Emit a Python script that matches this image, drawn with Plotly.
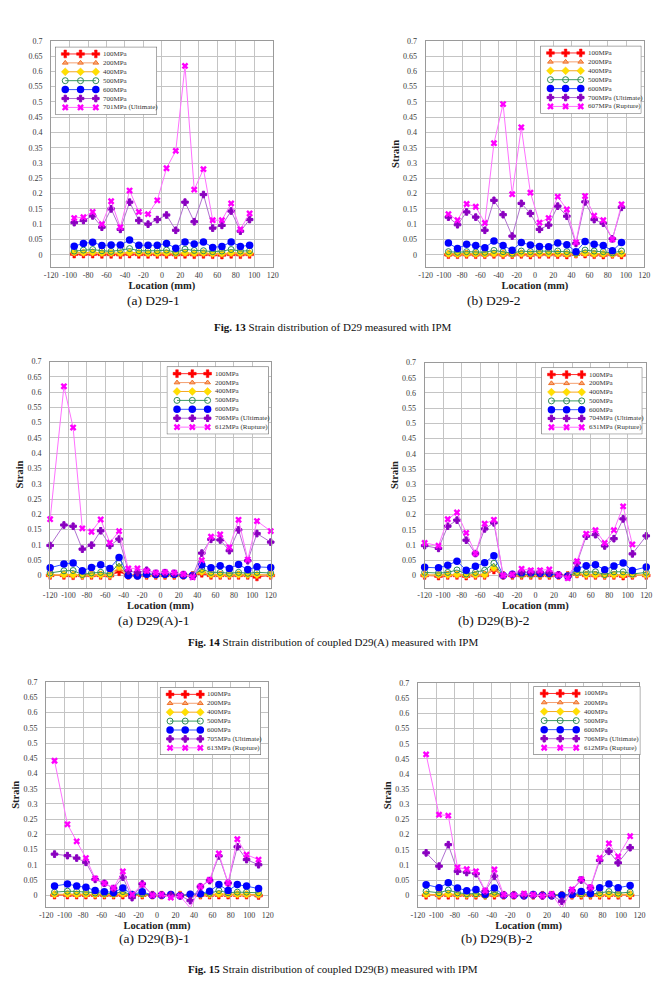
import plotly.graph_objects as go

W, H = 664, 993
SERIF = "Liberation Serif"

# ---------------- data ----------------
X_TICKS = [-120, -100, -80, -60, -40, -20, 0, 20, 40, 60, 80, 100, 120]

P1_X = [-95, -85, -75, -65, -55, -45, -35, -25, -15, -5, 5, 15, 25, 35, 45, 55, 65, 75, 85, 95]
P1_100 = [0.002, 0.002, 0.002, 0.001, 0.001, 0.000, 0.002, 0.001, 0.001, 0.001, 0.001, 0.000, 0.001, 0.000, 0.001, 0.000, -0.001, 0.001, 0.000, 0.001]
P1_200 = [0.004, 0.004, 0.004, 0.003, 0.003, 0.002, 0.003, 0.003, 0.002, 0.003, 0.003, 0.002, 0.003, 0.002, 0.003, 0.002, 0.001, 0.003, 0.002, 0.002]
P1_400 = [0.008, 0.007, 0.008, 0.006, 0.006, 0.005, 0.007, 0.006, 0.005, 0.005, 0.006, 0.004, 0.006, 0.005, 0.006, 0.004, 0.004, 0.006, 0.005, 0.005]
P1_500 = [0.012, 0.015, 0.017, 0.013, 0.011, 0.015, 0.020, 0.013, 0.012, 0.013, 0.015, 0.008, 0.018, 0.014, 0.013, 0.010, 0.012, 0.017, 0.012, 0.013]
P1_600 = [0.028, 0.037, 0.041, 0.030, 0.032, 0.032, 0.048, 0.031, 0.031, 0.031, 0.037, 0.021, 0.042, 0.035, 0.042, 0.024, 0.027, 0.042, 0.027, 0.031]
P1_700 = [0.105, 0.112, 0.127, 0.090, 0.150, 0.083, 0.172, 0.112, 0.100, 0.115, 0.130, 0.080, 0.172, 0.108, 0.197, 0.087, 0.096, 0.143, 0.077, 0.115]
P1_LAST = [0.120, 0.123, 0.140, 0.100, 0.175, 0.090, 0.210, 0.140, 0.133, 0.178, 0.283, 0.340, 0.618, 0.213, 0.280, 0.113, 0.113, 0.168, 0.083, 0.135]
P1_LABELS = ["100MPa", "200MPa", "400MPa", "500MPa", "600MPa", "700MPa", "701MPa (Ultimate)"]

P2_X = [-95, -85, -75, -65, -55, -45, -35, -25, -15, -5, 5, 15, 25, 35, 45, 55, 65, 75, 85, 95]
P2_100 = [0.000, 0.000, 0.001, 0.000, 0.000, 0.001, 0.000, 0.000, 0.001, -0.001, 0.001, 0.001, 0.000, -0.001, 0.002, 0.002, 0.000, -0.001, 0.001, -0.001]
P2_200 = [-0.001, -0.001, 0.000, -0.001, -0.001, 0.000, -0.001, -0.001, 0.000, -0.002, 0.000, 0.000, -0.001, -0.002, 0.002, 0.001, -0.001, -0.002, 0.000, -0.002]
P2_400 = [0.003, 0.002, 0.003, 0.003, 0.002, 0.004, 0.003, 0.002, 0.004, 0.003, 0.004, 0.004, 0.004, 0.003, 0.002, 0.005, 0.003, 0.003, 0.002, 0.003]
P2_500 = [0.010, 0.008, 0.010, 0.009, 0.008, 0.014, 0.010, 0.005, 0.012, 0.010, 0.012, 0.011, 0.012, 0.010, 0.005, 0.015, 0.012, 0.010, 0.006, 0.012]
P2_600 = [0.038, 0.020, 0.034, 0.030, 0.023, 0.045, 0.030, 0.015, 0.040, 0.032, 0.027, 0.026, 0.038, 0.033, 0.010, 0.043, 0.034, 0.030, 0.013, 0.040]
P2_700 = [0.123, 0.098, 0.140, 0.123, 0.080, 0.178, 0.131, 0.061, 0.168, 0.135, 0.083, 0.097, 0.159, 0.126, 0.037, 0.173, 0.115, 0.103, 0.052, 0.155]
P2_LAST = [0.133, 0.113, 0.166, 0.157, 0.104, 0.365, 0.493, 0.198, 0.417, 0.203, 0.105, 0.120, 0.190, 0.148, 0.040, 0.192, 0.128, 0.113, 0.050, 0.165]
P2_LABELS = ["100MPa", "200MPa", "400MPa", "500MPa", "600MPa", "700MPa (Ultimate)", "607MPa (Rupture)"]

P3_X = [-120, -105, -95, -85, -75, -65, -55, -45, -35, -25, -15, -5, 5, 15, 25, 35, 45, 55, 65, 75, 85, 95, 105, 120]
P3_100 = [0.000, 0.000, -0.001, 0.000, 0.000, 0.000, -0.001, 0.012, 0.000, 0.000, 0.000, 0.000, 0.000, 0.000, 0.000, 0.000, 0.007, 0.000, 0.000, 0.000, 0.000, 0.000, -0.005, 0.000]
P3_200 = [0.001, 0.001, 0.001, 0.000, 0.001, 0.001, 0.000, 0.020, 0.000, 0.000, 0.001, 0.001, 0.001, 0.001, 0.000, 0.000, 0.010, 0.001, 0.001, 0.001, 0.001, 0.001, 0.001, 0.001]
P3_400 = [0.002, 0.003, 0.002, 0.000, 0.002, 0.002, 0.001, 0.028, 0.000, 0.000, 0.002, 0.002, 0.002, 0.002, 0.000, 0.000, 0.012, 0.003, 0.002, 0.002, 0.003, 0.002, 0.002, 0.002]
P3_500 = [0.008, 0.015, 0.016, 0.003, 0.008, 0.010, 0.005, 0.040, 0.000, 0.000, 0.004, 0.003, 0.003, 0.003, 0.001, 0.000, 0.020, 0.010, 0.010, 0.007, 0.010, 0.007, 0.010, 0.008]
P3_600 = [0.025, 0.037, 0.041, 0.015, 0.026, 0.035, 0.023, 0.059, 0.000, -0.002, 0.004, 0.003, 0.004, 0.004, 0.000, 0.000, 0.034, 0.025, 0.032, 0.023, 0.036, 0.019, 0.028, 0.026]
P3_700 = [0.098, 0.165, 0.161, 0.086, 0.099, 0.146, 0.098, 0.119, 0.015, 0.009, 0.017, 0.007, 0.009, 0.007, 0.003, -0.002, 0.073, 0.118, 0.116, 0.081, 0.149, 0.048, 0.137, 0.109]
P3_LAST = [0.184, 0.619, 0.484, 0.154, 0.143, 0.183, 0.107, 0.145, 0.023, 0.023, 0.015, 0.009, 0.011, 0.009, 0.004, -0.006, 0.050, 0.127, 0.134, 0.092, 0.182, 0.052, 0.178, 0.145]
P3_LABELS = ["100MPa", "200MPa", "400MPa", "500MPa", "600MPa", "706MPa (Ultimate)", "612MPa (Rupture)"]

P4_X = [-120, -105, -95, -85, -75, -65, -55, -45, -35, -25, -15, -5, 5, 15, 25, 35, 45, 55, 65, 75, 85, 95, 105, 120]
P4_100 = [0.000, -0.002, 0.000, 0.000, -0.002, 0.000, 0.000, 0.018, 0.000, 0.000, 0.000, 0.000, 0.000, 0.000, 0.000, 0.000, 0.005, 0.000, 0.000, 0.000, 0.000, -0.002, 0.000, 0.000]
P4_200 = [0.000, 0.000, 0.001, 0.001, 0.000, 0.000, 0.001, 0.020, 0.000, 0.001, 0.000, 0.000, 0.000, 0.000, 0.000, 0.000, 0.008, 0.001, 0.000, 0.000, 0.001, 0.000, 0.000, 0.000]
P4_400 = [0.002, 0.002, 0.002, 0.003, 0.001, 0.002, 0.002, 0.025, 0.000, 0.002, 0.002, 0.002, 0.002, 0.002, 0.001, 0.000, 0.006, 0.002, 0.002, 0.001, 0.002, 0.002, 0.002, 0.002]
P4_500 = [0.010, 0.008, 0.010, 0.018, 0.005, 0.010, 0.017, 0.040, 0.000, 0.003, 0.004, 0.004, 0.004, 0.004, 0.002, -0.002, 0.010, 0.010, 0.012, 0.003, 0.012, 0.012, 0.005, 0.010]
P4_600 = [0.027, 0.025, 0.034, 0.047, 0.017, 0.030, 0.042, 0.065, 0.000, 0.004, 0.009, 0.009, 0.007, 0.007, 0.001, -0.002, 0.023, 0.032, 0.035, 0.019, 0.031, 0.041, 0.016, 0.028]
P4_700 = [0.098, 0.089, 0.162, 0.182, 0.116, 0.072, 0.153, 0.173, 0.000, 0.003, 0.012, 0.010, 0.010, 0.010, 0.002, -0.004, 0.041, 0.129, 0.134, 0.097, 0.121, 0.186, 0.071, 0.130]
P4_LAST = [0.107, 0.098, 0.185, 0.207, 0.140, 0.072, 0.170, 0.183, 0.000, 0.003, 0.022, 0.017, 0.017, 0.020, 0.002, -0.009, 0.047, 0.137, 0.149, 0.107, 0.149, 0.227, 0.102, None]
P4_LABELS = ["100MPa", "200MPa", "400MPa", "500MPa", "600MPa", "704MPa (Ultimate)", "631MPa (Rupture)"]

P5_X = [-111, -97, -87, -77, -67, -57, -47, -37, -27, -16, -5, 5, 15, 25, 36, 47, 57, 67, 77, 87, 97, 110]
P5_100 = [0.000, 0.000, 0.000, 0.000, 0.000, 0.000, 0.000, 0.000, 0.000, 0.000, 0.000, 0.000, 0.000, 0.000, 0.000, 0.000, 0.000, 0.000, 0.000, 0.000, 0.000, -0.001]
P5_200 = [0.001, 0.001, 0.001, 0.001, 0.000, 0.000, 0.000, 0.001, 0.000, 0.000, 0.000, 0.000, 0.000, 0.000, 0.000, 0.000, 0.000, 0.001, 0.000, 0.000, -0.001, -0.002]
P5_400 = [0.003, 0.004, 0.003, 0.003, 0.002, 0.002, 0.002, 0.004, 0.000, 0.002, 0.000, 0.000, 0.000, 0.000, 0.001, 0.001, 0.002, 0.004, 0.003, 0.003, 0.003, 0.002]
P5_500 = [0.010, 0.013, 0.012, 0.010, 0.007, 0.006, 0.005, 0.012, 0.000, 0.005, 0.000, 0.000, 0.000, -0.002, 0.002, 0.003, 0.006, 0.015, 0.008, 0.010, 0.010, 0.008]
P5_600 = [0.030, 0.037, 0.030, 0.026, 0.015, 0.011, 0.009, 0.024, 0.002, 0.011, 0.000, 0.000, 0.002, -0.002, 0.003, 0.005, 0.013, 0.035, 0.015, 0.035, 0.030, 0.022]
P5_700 = [0.135, 0.130, 0.122, 0.108, 0.052, 0.039, 0.022, 0.059, -0.008, 0.037, 0.000, 0.000, 0.000, -0.002, -0.018, 0.028, 0.048, 0.129, 0.040, 0.159, 0.117, 0.100]
P5_LAST = [0.442, 0.233, 0.177, 0.122, 0.055, 0.039, 0.024, 0.078, 0.002, 0.035, 0.000, 0.002, -0.008, -0.003, -0.042, 0.028, 0.050, 0.137, 0.040, 0.184, 0.133, 0.117]
P5_LABELS = ["100MPa", "200MPa", "400MPa", "500MPa", "600MPa", "705MPa (Ultimate)", "613MPa (Rupture)"]

P6_X = [-111, -97, -87, -77, -67, -57, -47, -37, -27, -16, -5, 5, 15, 25, 36, 47, 57, 67, 77, 87, 97, 110]
P6_100 = [0.000, 0.000, 0.000, 0.000, 0.000, 0.000, 0.000, 0.000, 0.000, 0.000, 0.000, 0.000, 0.000, 0.000, 0.000, 0.000, 0.000, 0.000, 0.000, 0.000, 0.000, 0.000]
P6_200 = [0.000, -0.001, 0.000, 0.000, 0.000, 0.000, -0.003, 0.000, 0.000, 0.000, 0.000, 0.000, 0.000, 0.000, 0.000, 0.000, 0.000, 0.000, 0.000, 0.000, 0.000, 0.000]
P6_400 = [0.003, 0.002, 0.004, 0.002, 0.001, 0.002, -0.001, 0.004, 0.000, 0.000, 0.000, 0.000, 0.000, 0.000, 0.000, 0.001, 0.002, 0.001, 0.002, 0.003, 0.002, 0.003]
P6_500 = [0.013, 0.008, 0.017, 0.008, 0.005, 0.005, 0.000, 0.010, 0.000, 0.000, 0.000, 0.000, 0.000, 0.000, 0.000, 0.002, 0.005, 0.003, 0.008, 0.012, 0.007, 0.010]
P6_600 = [0.035, 0.025, 0.041, 0.024, 0.015, 0.019, 0.003, 0.024, 0.000, 0.000, -0.002, 0.002, 0.000, -0.002, 0.000, 0.002, 0.012, 0.006, 0.025, 0.037, 0.025, 0.032]
P6_700 = [0.140, 0.096, 0.167, 0.079, 0.075, 0.071, 0.013, 0.063, 0.000, 0.000, 0.000, 0.000, -0.002, 0.000, -0.020, 0.015, 0.050, 0.024, 0.115, 0.145, 0.107, 0.157]
P6_LAST = [0.465, 0.266, 0.263, 0.092, 0.086, 0.079, 0.015, 0.085, 0.002, 0.000, 0.005, 0.002, -0.002, 0.004, -0.044, 0.019, 0.053, 0.026, 0.123, 0.171, 0.128, 0.195]
P6_LABELS = ["100MPa", "200MPa", "400MPa", "500MPa", "600MPa", "706MPa (Ultimate)", "612MPa (Rupture)"]

SUB_CAPTIONS = ["(a) D29-1", "(b) D29-2", "(a) D29(A)-1", "(b) D29(B)-2", "(a) D29(B)-1", "(b) D29(B)-2"]
FIG_CAPTIONS = [
    ("Fig. 13", "Strain distribution of D29 measured with IPM"),
    ("Fig. 14", "Strain distribution of coupled D29(A) measured with IPM"),
    ("Fig. 15", "Strain distribution of coupled D29(B) measured with IPM"),
]

# ---------------- styles ----------------
STYLES = [
    dict(marker=dict(symbol="cross", size=6.5, color="#FF0000", line=dict(color="#FF0000", width=0.5)),
         line=dict(color="#FF3030", width=1)),
    dict(marker=dict(symbol="triangle-up", size=5, color="#F8A878", line=dict(color="#F07028", width=1)),
         line=dict(color="#F4A070", width=1)),
    dict(marker=dict(symbol="diamond", size=6, color="#FFE000", line=dict(color="#FFC400", width=0.5)),
         line=dict(color="#F5A623", width=1)),
    dict(marker=dict(symbol="circle-open", size=6, color="#2E8B57", line=dict(width=1)),
         line=dict(color="#3C9A64", width=1)),
    dict(marker=dict(symbol="circle", size=7.5, color="#0000FF"), line=dict(color="#3355FF", width=1)),
    dict(marker=dict(symbol="cross", size=5.5, color="#8A00C0", line=dict(color="#8A00C0", width=1)),
         line=dict(color="#B070D0", width=1)),
    dict(marker=dict(symbol="x", size=6, color="#FF00FF"), line=dict(color="#FF70FF", width=1)),
]

# layout boxes in pixels: (left, top, right, bottom)
PANELS = [
    dict(x=P1_X, ys=[P1_100, P1_200, P1_400, P1_500, P1_600, P1_700, P1_LAST], labels=P1_LABELS,
         plot=(45, 37, 271, 264), legend=(49, 43, 153, 111), ytitle=False),
    dict(x=P2_X, ys=[P2_100, P2_200, P2_400, P2_500, P2_600, P2_700, P2_LAST], labels=P2_LABELS,
         plot=(427, 37, 650, 264), legend=(544, 42, 647, 110), ytitle=True),
    dict(x=P3_X, ys=[P3_100, P3_200, P3_400, P3_500, P3_600, P3_700, P3_LAST], labels=P3_LABELS,
         plot=(44, 359, 269, 586), legend=(163, 364, 267, 432), ytitle=True),
    dict(x=P4_X, ys=[P4_100, P4_200, P4_400, P4_500, P4_600, P4_700, P4_LAST], labels=P4_LABELS,
         plot=(426, 360, 652, 586), legend=(545, 365, 648, 432), ytitle=True),
    dict(x=P5_X, ys=[P5_100, P5_200, P5_400, P5_500, P5_600, P5_700, P5_LAST], labels=P5_LABELS,
         plot=(40, 681, 266, 907), legend=(156, 686, 259, 754), ytitle=True),
    dict(x=P6_X, ys=[P6_100, P6_200, P6_400, P6_500, P6_600, P6_700, P6_LAST], labels=P6_LABELS,
         plot=(419, 682, 645, 907), legend=(537, 685, 646, 754), ytitle=True),
]
SUB_CAPTION_POS = [(149, 298), (497, 298), (150, 619), (497, 619), (150, 938), (500, 938)]
FIG_CAPTION_POS = [(332, 324), (332, 641), (332, 969)]

LEG_SAMPLE_X = [0.1, 0.25, 0.4]
LEG_TEXT_X = 0.45
LEG_RANGE_Y = [6.8, -0.8]


def xdom(l, r):
    return [l / W, r / W]


def ydom(t, b):
    return [1 - b / H, 1 - t / H]


def key(prefix, n):
    return f"{prefix}axis" if n == 1 else f"{prefix}axis{n}"


def ref(prefix, n):
    return prefix if n == 1 else f"{prefix}{n}"


fig = go.Figure()
layout = dict(
    width=W, height=H, autosize=False,
    margin=dict(l=0, r=0, t=0, b=0),
    paper_bgcolor="white", plot_bgcolor="white",
    showlegend=False,
    font=dict(family=SERIF, color="#333333"),
)
annotations = []
shapes = []

GRID = "#C4C4C4"
FRAME = "#9A9A9A"

for i, p in enumerate(PANELS):
    n = i + 1
    ln = n + 6
    l, t, r, b = p["plot"]
    for ys, st, lab in zip(p["ys"], STYLES, p["labels"]):
        fig.add_trace(go.Scatter(
            x=p["x"], y=ys, mode="lines+markers", name=lab,
            marker=st["marker"], line=st["line"], cliponaxis=False,
            xaxis=ref("x", n), yaxis=ref("y", n),
        ))
    layout[key("x", n)] = dict(
        domain=xdom(l, r), anchor=ref("y", n), range=[-120, 120],
        tickmode="array", tickvals=X_TICKS, ticktext=[str(v) for v in X_TICKS],
        showgrid=True, gridcolor=GRID, gridwidth=1, zeroline=False,
        showline=True, mirror=True, linecolor=FRAME, linewidth=1,
        ticks="", tickfont=dict(family=SERIF, size=8, color="#3a3a3a"),
        title=dict(text="Location (mm)", standoff=2,
                   font=dict(family=SERIF, size=10.5, color="#222222", weight="bold")),
        fixedrange=True,
    )
    layout[key("y", n)] = dict(
        domain=ydom(t, b), anchor=ref("x", n), range=[-0.04, 0.7],
        tick0=0, dtick=0.05,
        showgrid=True, gridcolor=GRID, gridwidth=1, zeroline=False,
        showline=True, mirror=True, linecolor=FRAME, linewidth=1,
        ticks="outside", ticklen=6, tickcolor="rgba(0,0,0,0)",
        tickfont=dict(family=SERIF, size=8, color="#3a3a3a"),
        title=dict(text="Strain" if p["ytitle"] else "", standoff=1,
                   font=dict(family=SERIF, size=10.5, color="#222222", weight="bold")),
        fixedrange=True,
    )

    # legend drawn on its own small axes
    ll, lt, lr, lb = p["legend"]
    for row, (st, lab) in enumerate(zip(STYLES, p["labels"])):
        fig.add_trace(go.Scatter(
            x=LEG_SAMPLE_X, y=[row] * len(LEG_SAMPLE_X), mode="lines+markers",
            marker=st["marker"], line=st["line"], hoverinfo="skip",
            xaxis=ref("x", ln), yaxis=ref("y", ln), showlegend=False,
        ))
        annotations.append(dict(
            x=LEG_TEXT_X, y=row, xref=ref("x", ln), yref=ref("y", ln),
            text=lab, showarrow=False, xanchor="left", yanchor="middle",
            font=dict(family=SERIF, size=7, color="#333333"),
        ))
    layout[key("x", ln)] = dict(domain=xdom(ll, lr), anchor=ref("y", ln), range=[0, 1],
                                visible=False, fixedrange=True)
    layout[key("y", ln)] = dict(domain=ydom(lt, lb), anchor=ref("x", ln), range=LEG_RANGE_Y,
                                visible=False, fixedrange=True)
    shapes.append(dict(type="rect", xref=ref("x", ln), yref=ref("y", ln),
                       x0=0, x1=1, y0=LEG_RANGE_Y[0], y1=LEG_RANGE_Y[1],
                       fillcolor="white", line=dict(color="#555555", width=1), layer="below"))

for text, (cx, cy) in zip(SUB_CAPTIONS, SUB_CAPTION_POS):
    annotations.append(dict(x=cx / W, y=1 - cy / H, xref="paper", yref="paper", text=text,
                            showarrow=False, xanchor="center", yanchor="middle",
                            font=dict(family=SERIF, size=13.5, color="#111111")))
for (bold, rest), (cx, cy) in zip(FIG_CAPTIONS, FIG_CAPTION_POS):
    annotations.append(dict(x=cx / W, y=1 - cy / H, xref="paper", yref="paper",
                            text=f"<b>{bold}</b> {rest}",
                            showarrow=False, xanchor="center", yanchor="middle",
                            font=dict(family=SERIF, size=11, color="#111111")))

layout["annotations"] = annotations
layout["shapes"] = shapes
fig.update_layout(**layout)
fig.write_html("out.html")
